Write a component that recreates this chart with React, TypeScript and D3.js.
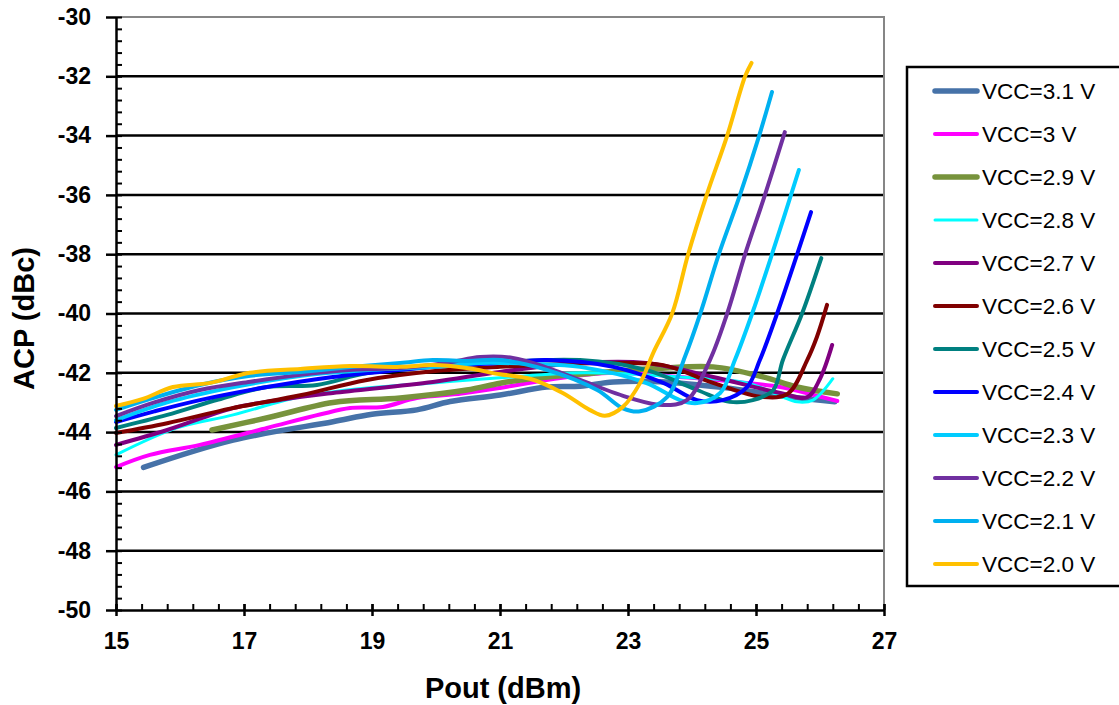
import { useEffect, useRef } from "react";
import * as d3 from "d3";

// ACP vs Pout for each supply voltage
const vcc31: [number, number][] = [[15.43, -45.19], [16.83, -44.27], [18.39, -43.65], [19.0, -43.4], [19.7, -43.25], [20.22, -42.97], [21.0, -42.75], [21.73, -42.48], [22.25, -42.45], [22.77, -42.31], [23.5, -42.3], [24.5, -42.5], [25.5, -42.8], [26.23, -42.98]];
const vcc30: [number, number][] = [[15, -45.18], [15.53, -44.77], [16.31, -44.43], [17.36, -43.86], [18.2, -43.4], [18.66, -43.19], [19.17, -43.15], [19.7, -42.85], [20.4, -42.7], [21.0, -42.51], [21.73, -42.24], [22.77, -42.0], [23.81, -42.14], [25.38, -42.48], [25.9, -42.75], [26.27, -42.95]];
const vcc29: [number, number][] = [[16.5, -43.93], [17.4, -43.5], [18.39, -43.0], [19.44, -42.85], [20.48, -42.58], [21.0, -42.35], [21.47, -42.2], [22.5, -42.0], [23.5, -41.85], [24.33, -41.8], [25.11, -42.14], [25.64, -42.48], [26.27, -42.71]];
const vcc28: [number, number][] = [[15, -44.77], [15.95, -43.86], [16.83, -43.42], [17.88, -42.81], [18.92, -42.51], [19.95, -42.34], [21.0, -42.17], [22.3, -42.0], [23.81, -42.14], [24.86, -42.34], [25.4, -42.8], [25.64, -42.98], [25.89, -42.92], [26.2, -42.2]];
const vcc27: [number, number][] = [[15, -44.43], [15.8, -43.93], [16.83, -43.19], [17.6, -42.9], [18.39, -42.68], [19.95, -42.31], [21.0, -41.97], [22.25, -41.67], [23.28, -41.67], [24.33, -42.14], [25.38, -42.68], [25.8, -42.82], [26.0, -42.2], [26.19, -41.06]];
const vcc26: [number, number][] = [[15, -44.03], [15.8, -43.7], [16.8, -43.2], [17.9, -42.75], [18.9, -42.25], [19.95, -41.95], [21.0, -41.8], [22.0, -41.7], [22.77, -41.67], [23.55, -41.74], [24.33, -42.34], [25.11, -42.82], [25.5, -42.7], [25.8, -41.57], [25.95, -40.8], [26.11, -39.71]];
const vcc25: [number, number][] = [[15, -43.86], [15.8, -43.42], [16.6, -42.9], [17.36, -42.48], [18.14, -42.41], [18.92, -42.01], [20.0, -41.8], [21.0, -41.64], [22.25, -41.57], [23.28, -41.9], [24.08, -42.58], [24.59, -42.98], [24.95, -42.92], [25.27, -42.58], [25.42, -41.57], [25.72, -40.0], [26.02, -38.13]];
const vcc24: [number, number][] = [[15, -43.66], [15.6, -43.3], [16.31, -42.92], [17.36, -42.48], [18.39, -42.14], [19.44, -41.9], [20.2, -41.75], [21.0, -41.67], [21.73, -41.57], [22.77, -41.8], [23.55, -42.34], [24.08, -42.92], [24.48, -42.92], [24.86, -42.48], [25.06, -41.57], [25.33, -40.0], [25.86, -36.58]];
const vcc23: [number, number][] = [[15, -43.6], [15.8, -43.0], [16.8, -42.5], [17.9, -42.1], [19.0, -41.9], [20.0, -41.8], [20.69, -41.67], [21.5, -41.7], [22.25, -41.8], [23.28, -42.34], [23.81, -42.92], [24.08, -43.02], [24.44, -42.68], [24.67, -41.57], [24.94, -40.0], [25.25, -38.0], [25.67, -35.16]];
const vcc22: [number, number][] = [[15, -43.46], [15.6, -43.0], [16.31, -42.58], [17.1, -42.3], [17.88, -42.07], [18.7, -41.9], [19.44, -41.84], [20.2, -41.65], [20.69, -41.47], [21.2, -41.5], [21.7, -41.8], [22.25, -42.24], [23.03, -42.85], [23.55, -43.09], [23.92, -42.92], [24.28, -41.57], [24.55, -40.0], [24.83, -38.0], [25.14, -36.0], [25.45, -33.88]];
const vcc21: [number, number][] = [[15, -43.25], [15.5, -42.9], [16.31, -42.41], [17.1, -42.1], [17.88, -41.97], [18.7, -41.8], [19.44, -41.67], [19.95, -41.57], [20.5, -41.6], [21.0, -41.57], [21.73, -41.9], [22.52, -42.58], [22.92, -43.2], [23.19, -43.3], [23.61, -42.82], [23.9, -41.4], [24.13, -40.0], [24.42, -38.0], [24.75, -36.0], [25.05, -34.0], [25.25, -32.53]];
const vcc20: [number, number][] = [[15, -43.12], [15.42, -42.88], [15.89, -42.48], [16.47, -42.34], [17.09, -42.0], [17.88, -41.87], [18.66, -41.77], [19.44, -41.8], [19.95, -41.74], [20.48, -41.84], [21.0, -42.05], [21.47, -42.2], [21.98, -42.68], [22.4, -43.25], [22.64, -43.45], [22.92, -43.15], [23.19, -42.34], [23.4, -41.3], [23.69, -40.0], [23.94, -38.0], [24.23, -36.0], [24.55, -34.0], [24.83, -32.0], [24.93, -31.55]];

const seriesNames = ["VCC=3.1 V", "VCC=3 V", "VCC=2.9 V", "VCC=2.8 V", "VCC=2.7 V", "VCC=2.6 V", "VCC=2.5 V", "VCC=2.4 V", "VCC=2.3 V", "VCC=2.2 V", "VCC=2.1 V", "VCC=2.0 V"];
const seriesData = [vcc31, vcc30, vcc29, vcc28, vcc27, vcc26, vcc25, vcc24, vcc23, vcc22, vcc21, vcc20];
const seriesColors = ["#4672a8", "#ff00ff", "#77933c", "#00ffff", "#800080", "#800000", "#008080", "#0000ff", "#00ccff", "#7030a0", "#00b0f0", "#ffc000"];
const seriesWidths = [5.5, 4, 5.5, 3, 4, 4, 4, 4, 4, 4, 4, 4];

const xTicks = [15, 17, 19, 21, 23, 25, 27];
const yTicks = [-30, -32, -34, -36, -38, -40, -42, -44, -46, -48, -50];

const FONT = "'Liberation Sans', Arial, sans-serif";

export default function App() {
  const svgRef = useRef<SVGSVGElement>(null);

  useEffect(() => {
    const svg = d3.select(svgRef.current);
    svg.selectAll("*").remove();

    const width = 1119;
    const height = 705;
    const plot = { left: 116, right: 884, top: 17, bottom: 610 };

    const x = d3.scaleLinear().domain([15, 27]).range([plot.left, plot.right]);
    const y = d3.scaleLinear().domain([-50, -30]).range([plot.bottom, plot.top]);

    svg.append("rect").attr("width", width).attr("height", height).attr("fill", "#fff");

    // gridlines
    svg
      .append("g")
      .selectAll("line")
      .data(yTicks.filter((d) => d !== -30 && d !== -50))
      .enter()
      .append("line")
      .attr("x1", plot.left)
      .attr("x2", plot.right)
      .attr("y1", (d) => y(d))
      .attr("y2", (d) => y(d))
      .attr("stroke", "#000")
      .attr("stroke-width", 2.5);

    // top + right frame (grey)
    svg
      .append("path")
      .attr("d", `M${plot.left},${y(-30)}H${x(27)}V${y(-50)}`)
      .attr("fill", "none")
      .attr("stroke", "#868686")
      .attr("stroke-width", 2);

    // series
    const line = d3
      .line<[number, number]>()
      .x((d) => x(d[0]))
      .y((d) => y(d[1]))
      .curve(d3.curveCatmullRom.alpha(0.5));

    seriesData.forEach((s, i) => {
      svg
        .append("path")
        .attr("d", line(s))
        .attr("fill", "none")
        .attr("stroke", seriesColors[i])
        .attr("stroke-width", seriesWidths[i])
        .attr("stroke-linecap", "round")
        .attr("stroke-linejoin", "round");
    });

    const minorY = d3.range(-50, -29.9, 0.4).map((v) => +v.toFixed(1));
    const minorX = d3.range(15, 27.01, 0.4).map((v) => +v.toFixed(1));

    // y axis: minor ticks inside, major ticks outside with labels
    svg
      .append("g")
      .attr("transform", `translate(${plot.left},0)`)
      .call(d3.axisRight(y).tickValues(minorY).tickSize(6).tickSizeOuter(0).tickFormat(() => ""))
      .call((g) => g.select(".domain").remove())
      .selectAll("line")
      .attr("stroke", "#000")
      .attr("stroke-width", 2);

    const yAxis = svg
      .append("g")
      .attr("transform", `translate(${plot.left},0)`)
      .call(
        d3
          .axisLeft(y)
          .tickValues(yTicks)
          .tickSize(10)
          .tickSizeOuter(0)
          .tickPadding(15)
          .tickFormat((d) => String(d))
      );
    yAxis.select(".domain").attr("stroke", "#000").attr("stroke-width", 2.5);
    yAxis.selectAll(".tick line").attr("stroke", "#000").attr("stroke-width", 2.5);
    yAxis
      .selectAll(".tick text")
      .attr("font-family", FONT)
      .attr("font-size", 23)
      .attr("font-weight", "bold")
      .attr("fill", "#000");

    // x axis: minor ticks inside, major ticks crossing, labels below
    svg
      .append("g")
      .attr("transform", `translate(0,${plot.bottom})`)
      .call(d3.axisTop(x).tickValues(minorX).tickSize(6).tickSizeOuter(0).tickFormat(() => ""))
      .call((g) => g.select(".domain").remove())
      .selectAll("line")
      .attr("stroke", "#000")
      .attr("stroke-width", 2);

    const xAxis = svg
      .append("g")
      .attr("transform", `translate(0,${plot.bottom})`)
      .call(
        d3
          .axisBottom(x)
          .tickValues(xTicks)
          .tickSize(6)
          .tickSizeOuter(0)
          .tickPadding(17)
          .tickFormat((d) => String(d))
      );
    xAxis.select(".domain").attr("stroke", "#000").attr("stroke-width", 2.5);
    xAxis
      .selectAll(".tick line")
      .attr("y1", -6)
      .attr("stroke", "#000")
      .attr("stroke-width", 2.5);
    xAxis
      .selectAll(".tick text")
      .attr("font-family", FONT)
      .attr("font-size", 23)
      .attr("font-weight", "bold")
      .attr("fill", "#000");

    // axis titles
    svg
      .append("text")
      .attr("x", (plot.left + plot.right) / 2 + 3)
      .attr("y", 698)
      .attr("text-anchor", "middle")
      .attr("font-family", FONT)
      .attr("font-size", 29)
      .attr("font-weight", "bold")
      .text("Pout (dBm)");

    svg
      .append("text")
      .attr("transform", `translate(34,${(plot.top + plot.bottom) / 2 + 5}) rotate(-90)`)
      .attr("text-anchor", "middle")
      .attr("font-family", FONT)
      .attr("font-size", 29)
      .attr("font-weight", "bold")
      .text("ACP (dBc)");

    // legend
    const legend = svg.append("g");
    legend
      .append("rect")
      .attr("x", 907)
      .attr("y", 67)
      .attr("width", 240)
      .attr("height", 519)
      .attr("fill", "#fff")
      .attr("stroke", "#000")
      .attr("stroke-width", 2.5);

    const rowY = d3.scalePoint<string>().domain(seriesNames).range([91, 564]);

    seriesNames.forEach((name, i) => {
      const ry = rowY(name) as number;
      legend
        .append("line")
        .attr("x1", 935)
        .attr("x2", 977)
        .attr("y1", ry)
        .attr("y2", ry)
        .attr("stroke", seriesColors[i])
        .attr("stroke-width", seriesWidths[i])
        .attr("stroke-linecap", "round");
      legend
        .append("text")
        .attr("x", 982)
        .attr("y", ry)
        .attr("dy", "0.36em")
        .attr("font-family", FONT)
        .attr("font-size", 22.5)
        .attr("fill", "#000")
        .text(name);
    });
  }, []);

  return (
    <svg
      ref={svgRef}
      width={1119}
      height={705}
      style={{ position: "absolute", left: 0, top: 0, display: "block" }}
    />
  );
}
